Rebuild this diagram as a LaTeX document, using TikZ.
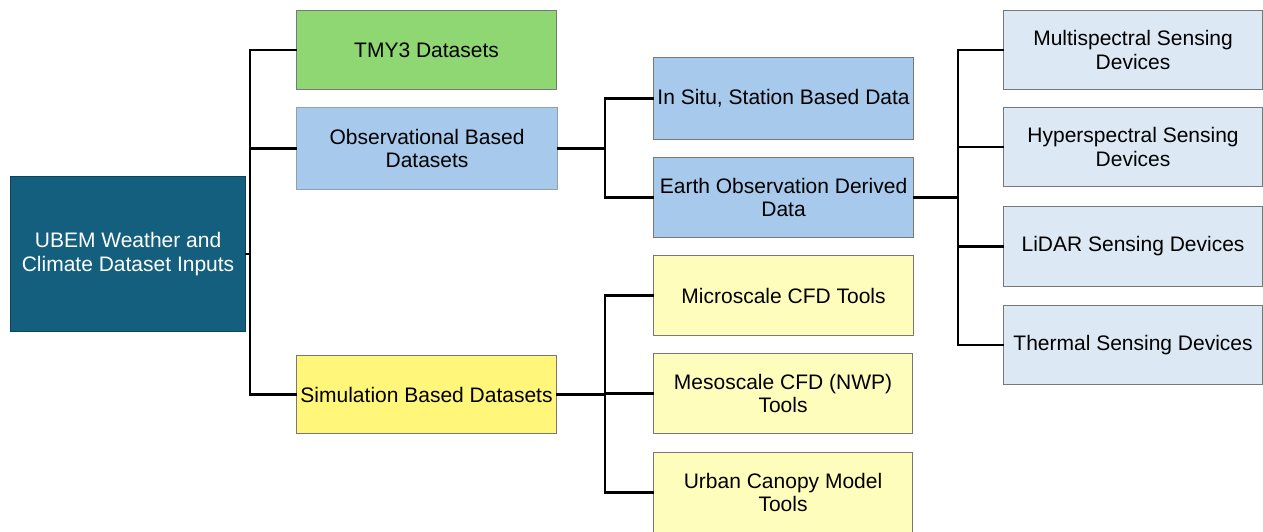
\documentclass[tikz,border=0pt]{standalone}
\usepackage{fontspec}
\setmainfont{Liberation Sans}
\definecolor{rootc}{RGB}{21,95,126}
\definecolor{greenc}{RGB}{143,215,115}
\definecolor{bluec}{RGB}{166,201,236}
\definecolor{yellowc}{RGB}{255,246,122}
\definecolor{lyellowc}{RGB}{255,253,187}
\definecolor{lbluec}{RGB}{220,232,244}
\definecolor{borderc}{RGB}{120,120,120}
\tikzset{
  box/.style={draw=borderc, line width=1.1pt, anchor=north west, align=center,
    inner sep=1pt, font=\fontsize{21}{23.5}\selectfont, text=black},
  conn/.style={draw=black, line width=2.5pt, line cap=rect},
}
\begin{document}
\begin{tikzpicture}[x=1pt,y=-1pt]
\useasboundingbox (0,0) rectangle (1263,531);
% root
\node[box, fill=rootc, draw=rootc!70!black, text=white, minimum width=235, minimum height=155] (root) at (10,176) {UBEM Weather and\\Climate Dataset Inputs};
% level 1
\node[box, fill=greenc, minimum width=260, minimum height=79] (tmy) at (296,10) {TMY3 Datasets};
\node[box, fill=bluec, draw=bluec!50!borderc, minimum width=261, minimum height=82] (obs) at (296,107) {Observational Based\\Datasets};
\node[box, fill=yellowc, minimum width=260, minimum height=78] (sim) at (296,355) {Simulation Based Datasets};
% level 2
\node[box, fill=bluec, minimum width=260, minimum height=82] (insitu) at (653,57) {In Situ, Station Based Data};
\node[box, fill=bluec, minimum width=260, minimum height=80] (earth) at (653,157) {Earth Observation Derived\\Data};
\node[box, fill=lyellowc, minimum width=260, minimum height=80] (micro) at (653,255) {Microscale CFD Tools};
\node[box, fill=lyellowc, minimum width=259, minimum height=80] (meso) at (653,353) {Mesoscale CFD (NWP)\\Tools};
\node[box, fill=lyellowc, minimum width=259, minimum height=80] (urban) at (653,452) {Urban Canopy Model\\Tools};
% level 3
\node[box, fill=lbluec, minimum width=259, minimum height=79] (multi) at (1003,10) {Multispectral Sensing\\Devices};
\node[box, fill=lbluec, minimum width=259, minimum height=79] (hyper) at (1003,107) {Hyperspectral Sensing\\Devices};
\node[box, fill=lbluec, minimum width=259, minimum height=80] (lidar) at (1003,206) {LiDAR Sensing Devices};
\node[box, fill=lbluec, minimum width=259, minimum height=79] (thermal) at (1003,305) {Thermal Sensing Devices};
% buses
\coordinate (b1) at (250,0);
\coordinate (b2) at (605,0);
\coordinate (b3) at (958,0);
% connectors
\draw[conn] (root.east) -- (root.east -| b1);
\draw[conn] (tmy.west) -- (tmy.west -| b1) -- (sim.west -| b1) -- (sim.west);
\draw[conn] (obs.west) -- (obs.west -| b1);
\draw[conn] (obs.east) -- (obs.east -| b2);
\draw[conn] (insitu.west) -- (insitu.west -| b2) -- (earth.west -| b2) -- (earth.west);
\draw[conn] (earth.east) -- (earth.east -| b3);
\draw[conn] (multi.west) -- (multi.west -| b3) -- (thermal.west -| b3) -- (thermal.west);
\draw[conn] (hyper.west) -- (hyper.west -| b3);
\draw[conn] (lidar.west) -- (lidar.west -| b3);
\draw[conn] (sim.east) -- (sim.east -| b2);
\draw[conn] (micro.west) -- (micro.west -| b2) -- (urban.west -| b2) -- (urban.west);
\draw[conn] (meso.west) -- (meso.west -| b2);
\end{tikzpicture}
\end{document}
